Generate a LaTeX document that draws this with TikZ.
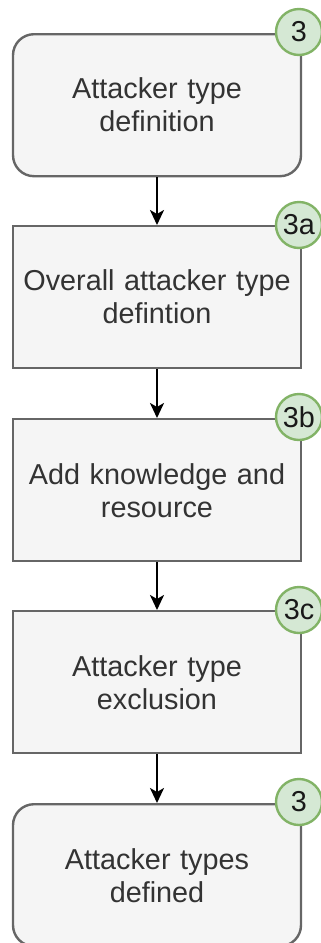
\documentclass[tikz,border=0pt]{standalone}
\usepackage{fontspec}
\setmainfont{Liberation Sans}
\usetikzlibrary{arrows.meta}
\definecolor{boxfill}{HTML}{F5F5F5}
\definecolor{boxline}{HTML}{666666}
\definecolor{boxtext}{HTML}{333333}
\definecolor{badgefill}{HTML}{D5E8D4}
\definecolor{badgeline}{HTML}{82B366}
\begin{document}
\begin{tikzpicture}[x=1pt,y=-1pt,
  stepbox/.style={draw=boxline, fill=boxfill, line width=2.4pt, minimum width=288pt, minimum height=142pt, inner sep=0pt, text width=280pt, align=center, font=\fontsize{28.8}{33}\selectfont, text=boxtext, anchor=north},
  roundbox/.style={stepbox, rounded corners=21pt},
  badge/.style={circle, draw=badgeline, fill=badgefill, line width=2.4pt, minimum size=46pt, inner sep=0pt, font=\fontsize{28.8}{33}\selectfont, text=black!90},
  flow/.style={line width=2.4pt, -{Stealth[length=15pt,width=14pt,inset=4pt]}}]
\useasboundingbox (0,0) rectangle (321,943);
\node[roundbox] (b1) at (157,33) {Attacker type\\definition};
\node[stepbox]  (b2) at (157,225) {Overall attacker type\\defintion};
\node[stepbox]  (b3) at (157,418) {Add knowledge and\\resource};
\node[stepbox]  (b4) at (157,610) {Attacker type\\exclusion};
\node[roundbox] (b5) at (157,803) {Attacker types\\defined};
\draw[flow] (b1.south) -- (b2.north);
\draw[flow] (b2.south) -- (b3.north);
\draw[flow] (b3.south) -- (b4.north);
\draw[flow] (b4.south) -- (b5.north);
\node[badge] (c1) at (299,32) {3};
\node[badge] (c2) at (299,225) {3a};
\node[badge] (c3) at (299,417) {3b};
\node[badge] (c4) at (299,610) {3c};
\node[badge] (c5) at (299,802) {3};
\end{tikzpicture}
\end{document}
